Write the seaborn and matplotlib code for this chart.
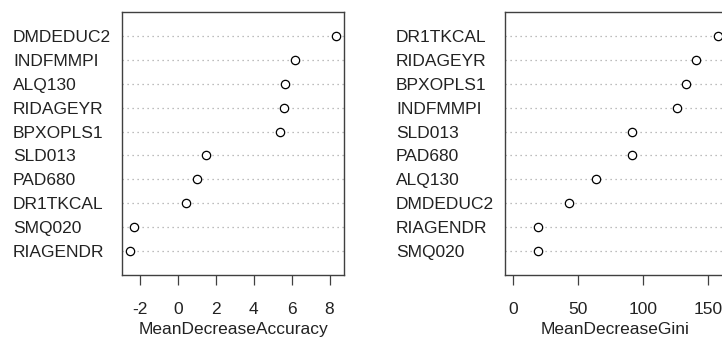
import matplotlib
matplotlib.use("Agg")
import matplotlib.pyplot as plt
import seaborn as sns
import pandas as pd

# Importancia de variables (random forest)
acc_vars = ['DMDEDUC2', 'INDFMMPI', 'ALQ130', 'RIDAGEYR', 'BPXOPLS1',
            'SLD013', 'PAD680', 'DR1TKCAL', 'SMQ020', 'RIAGENDR']
acc_vals = [8.33, 6.16, 5.65, 5.58, 5.40, 1.50, 0.99, 0.43, -2.33, -2.51]

gini_vars = ['DR1TKCAL', 'RIDAGEYR', 'BPXOPLS1', 'INDFMMPI', 'SLD013',
             'PAD680', 'ALQ130', 'DMDEDUC2', 'RIAGENDR', 'SMQ020']
gini_vals = [157.2, 140.3, 132.8, 126.2, 91.1, 91.0, 63.9, 43.1, 19.2, 18.8]

acc_ticks = [-2, 0, 2, 4, 6, 8]
gini_ticks = [0, 50, 100, 150]

sns.set_style("white")
plt.rcParams['font.family'] = ['Liberation Sans', 'DejaVu Sans']

W, H = 722, 340
fig = plt.figure(figsize=(W / 100, H / 100), dpi=100)

spine_col = '#404040'


def dot_panel(left_px, right_px, variables, values, ticks, xlabel, xlim):
    ax = fig.add_axes([left_px / W, (H - 275) / H, (right_px - left_px) / W, 263 / H])
    df = pd.DataFrame({'var': variables, 'val': values})
    sns.stripplot(data=df, x='val', y='var', order=variables, jitter=False,
                  ax=ax, marker='o', size=6, color='white',
                  edgecolor='black', linewidth=0.9, zorder=3)
    n = len(variables)
    ax.set_ylim(n, -1)
    ax.set_xlim(*xlim)
    ax.set_xticks(ticks)
    ax.set_xticklabels([str(t) for t in ticks], fontsize=12.5, color='#222222')
    ax.grid(axis='y', linestyle=(0, (1, 3)), color='#a8a8a8', linewidth=0.9)
    ax.grid(axis='x', visible=False)
    ax.tick_params(axis='y', length=0, pad=78.5, labelsize=12.5, labelcolor='#222222')
    for lab in ax.get_yticklabels():
        lab.set_horizontalalignment('left')
    ax.tick_params(axis='x', length=7.5, width=0.9, color=spine_col, pad=12,
                   bottom=True, direction='out')
    for sp in ax.spines.values():
        sp.set_visible(True)
        sp.set_color(spine_col)
        sp.set_linewidth(1.0)
    ax.set_ylabel('')
    ax.set_xlabel(xlabel, fontsize=12.5, color='#222222')
    ax.xaxis.set_label_coords(0.5, -0.18)
    return ax


acc_span = max(acc_vals) - min(acc_vals)
dot_panel(122, 344, acc_vars, acc_vals, acc_ticks, 'MeanDecreaseAccuracy',
          (min(acc_vals) - 0.04 * acc_span, max(acc_vals) + 0.04 * acc_span))

gini_max = max(gini_vals)
dot_panel(505, 726, gini_vars, gini_vals, gini_ticks, 'MeanDecreaseGini',
          (-0.04 * gini_max, 1.04 * gini_max))

fig.savefig('out.png', dpi=100)
